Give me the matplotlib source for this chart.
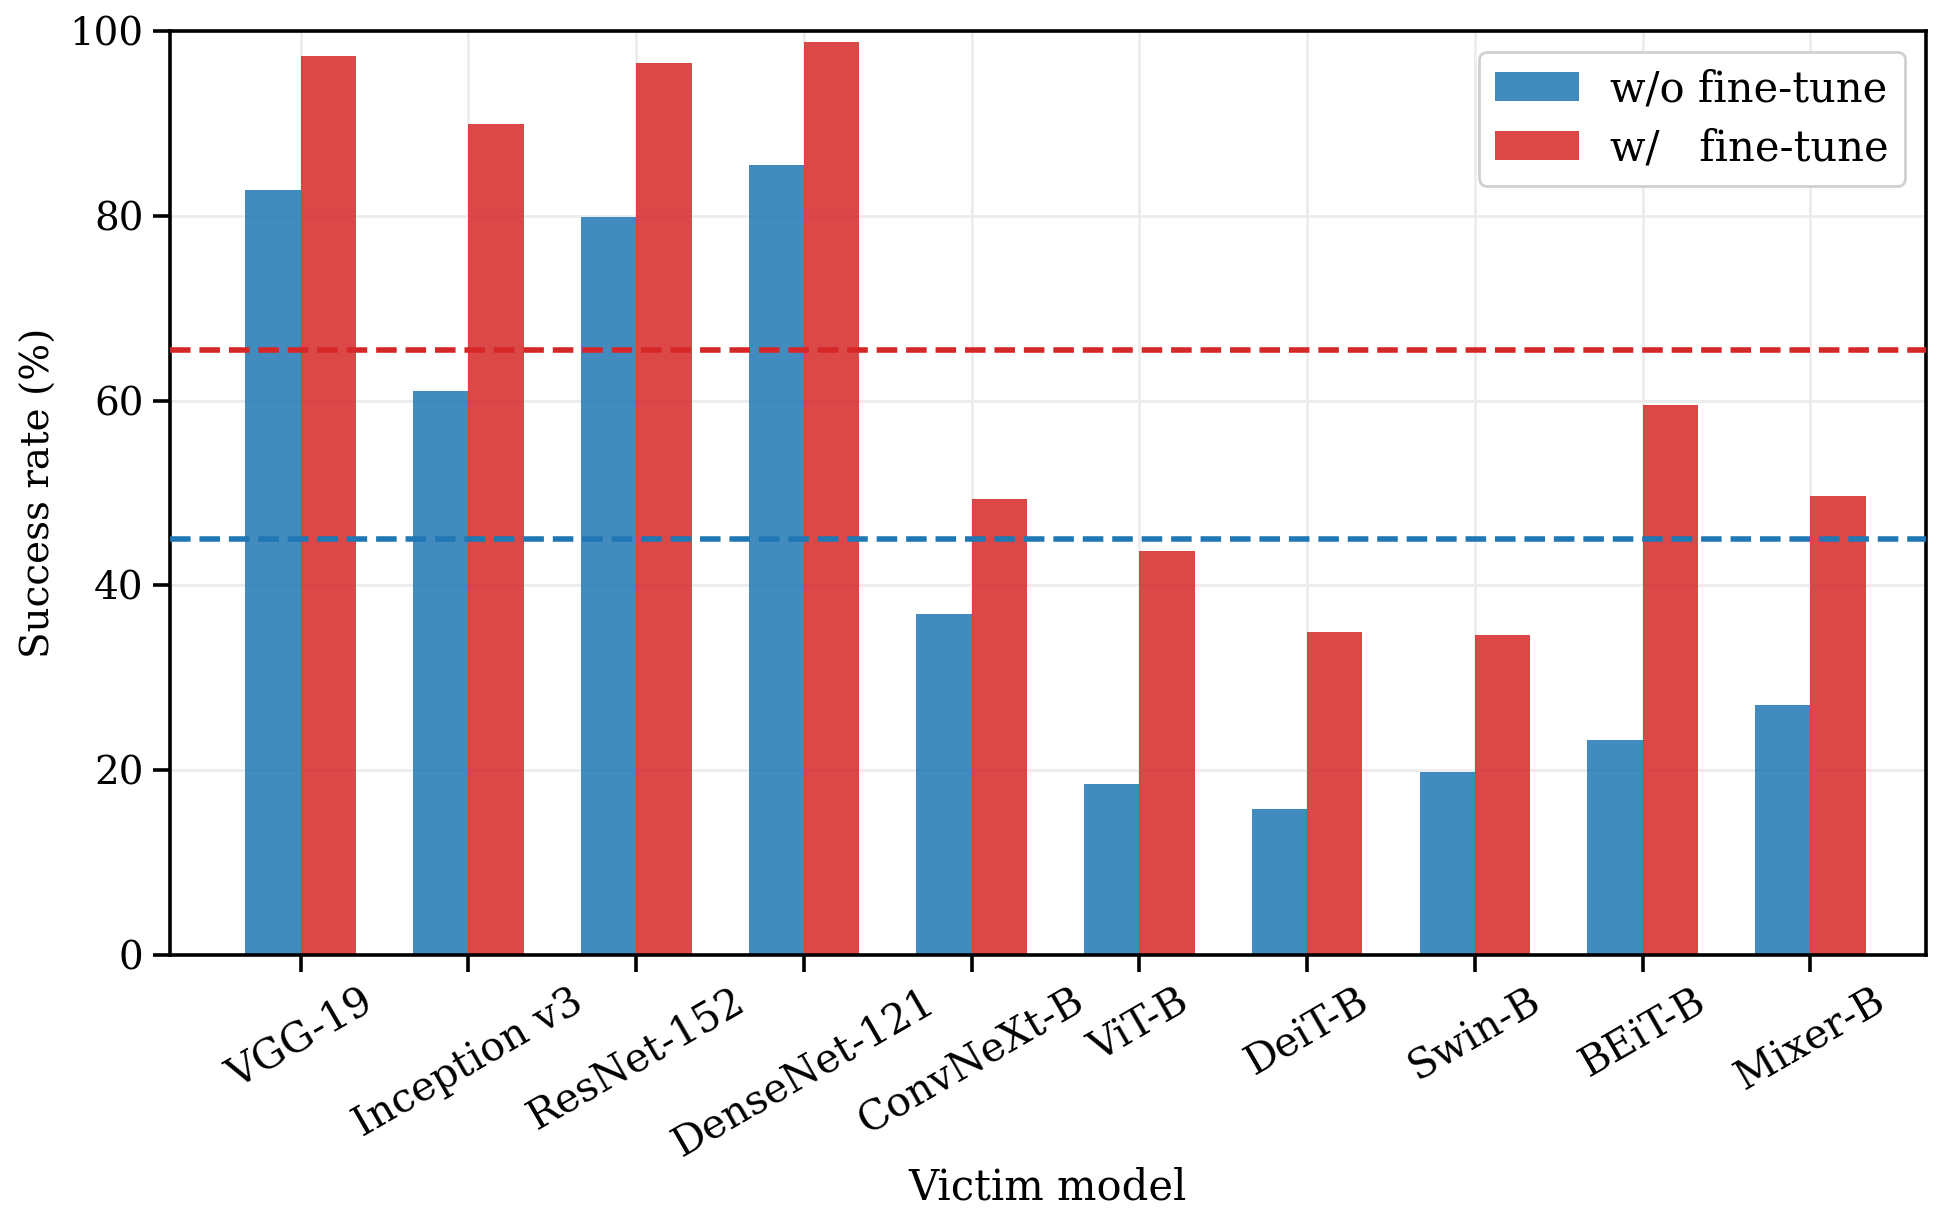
import matplotlib
matplotlib.use('Agg')
import matplotlib.pyplot as plt
import numpy as np

# Success rates
models = ['VGG-19', 'Inception v3', 'ResNet-152', 'DenseNet-121', 'ConvNeXt-B',
          'ViT-B', 'DeiT-B', 'Swin-B', 'BEiT-B', 'Mixer-B']
wo_finetune = [82.8, 61.0, 79.9, 85.5, 36.9, 18.5, 15.8, 19.8, 23.3, 27.1]
w_finetune = [97.3, 89.9, 96.5, 98.8, 49.3, 43.7, 35.0, 34.6, 59.5, 49.7]

plt.rcParams['font.family'] = 'DejaVu Serif'
plt.rcParams['font.size'] = 15

fig = plt.figure(figsize=(9.71, 6.12), dpi=200)
ax = fig.add_axes([0.0875, 0.2198, 0.9043, 0.7549])

x = np.arange(len(models))
w = 0.33
ax.bar(x - w / 2, wo_finetune, w, color='tab:blue', alpha=0.85, label='w/o fine-tune', zorder=2)
ax.bar(x + w / 2, w_finetune, w, color='tab:red', alpha=0.85, label='w/   fine-tune', zorder=2)

# average lines
ax.axhline(np.mean(wo_finetune), color='tab:blue', ls='--', lw=2, zorder=3)
ax.axhline(np.mean(w_finetune), color='tab:red', ls='--', lw=2, zorder=3)

ax.set_xticks(x)
ax.set_xticklabels(models, rotation=30, ha='center', fontsize=14.7)
ax.set_xlim(-0.78, 9.69)
ax.set_ylim(0, 100)
ax.set_yticks([0, 20, 40, 60, 80, 100])
ax.tick_params(axis='y', labelsize=14)
ax.grid(True, color='#ececec', lw=1, zorder=0)
ax.set_axisbelow(True)

for s in ax.spines.values():
    s.set_linewidth(1.3)
ax.tick_params(width=1.3, length=6)

ax.set_xlabel('Victim model', labelpad=1, fontsize=15)
ax.set_ylabel('Success rate (%)', fontsize=14)
ax.legend(loc='upper right', fancybox=True, framealpha=1, edgecolor='#d0d0d0',
          handlelength=2.0, handletextpad=0.75, labelspacing=0.4, fontsize=15)

fig.savefig('out.png', dpi=200)
